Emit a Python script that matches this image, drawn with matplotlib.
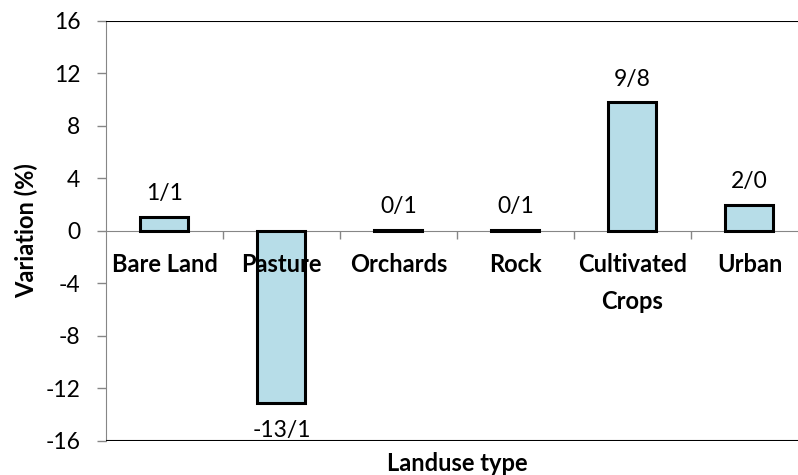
import numpy as np
import matplotlib.pyplot as plt

categories = ['Bare Land', 'Pasture', 'Orchards', 'Rock', 'Cultivated\nCrops', 'Urban']
variation = [1.1, -13.1, 0.1, 0.1, 9.8, 2.0]
value_labels = ['1/1', '-13/1', '0/1', '0/1', '9/8', '2/0']
yticks = [-16, -12, -8, -4, 0, 4, 8, 12, 16]

plt.rcParams['font.family'] = ['Lato', 'DejaVu Sans']
grey = '#868686'
fs = 16.5
fs_bold = 17

fig = plt.figure(figsize=(7.98, 4.75), dpi=100)
ax = fig.add_axes([0.1328, 0.0716, 0.8797, 0.8842])
ax.set_axisbelow(False)

ax.spines['top'].set_visible(False)
ax.spines['right'].set_visible(False)
ax.spines['left'].set_color(grey)
ax.spines['bottom'].set_position(('data', 0))
ax.spines['bottom'].set_color(grey)
ax.spines['bottom'].set_zorder(2)

x = np.arange(len(categories))
bars = ax.bar(x, variation, width=0.41, color='#b7dde8', edgecolor='black', linewidth=2.2, zorder=2.2)

for b, v, lab in zip(bars, variation, value_labels):
    xc = b.get_x() + b.get_width() / 2
    if v >= 0:
        ax.annotate(lab, (xc, v), xytext=(0, 9), textcoords='offset points',
                    ha='center', va='bottom', fontsize=fs)
    else:
        ax.annotate(lab, (xc, v), xytext=(0, -12), textcoords='offset points',
                    ha='center', va='top', fontsize=fs)

ax.set_xlim(-0.5, 5.5)
ax.set_ylim(-16, 16)
ax.set_yticks(yticks)
ax.set_yticklabels([str(t) for t in yticks], fontsize=fs)

ax.set_xticks(x)
ax.set_xticklabels(categories, fontsize=fs_bold, fontweight='bold', linespacing=1.7)
ax.set_xticks(np.arange(0.5, 5.5, 1), minor=True)
ax.tick_params(axis='x', which='major', length=0, pad=16)
ax.tick_params(axis='x', which='minor', length=6, color=grey, width=1, direction='out')
ax.tick_params(axis='y', length=6.5, color=grey, width=1, pad=12)

# black border lines at top and bottom of the value range
ax.axhline(16, color='black', linewidth=1.5, zorder=4)
ax.axhline(-16, color='black', linewidth=1.5, zorder=4)
yt = ax.yaxis.get_major_ticks()
yt[0].tick1line.set_color('black')
yt[-1].tick1line.set_color('black')

ax.set_ylabel('Variation (%)', fontsize=fs_bold, fontweight='bold', labelpad=5)
fig.text(0.5727, 0.025, 'Landuse type', fontsize=fs_bold, fontweight='bold', ha='center', va='center')

fig.savefig('out.png', dpi=100)
